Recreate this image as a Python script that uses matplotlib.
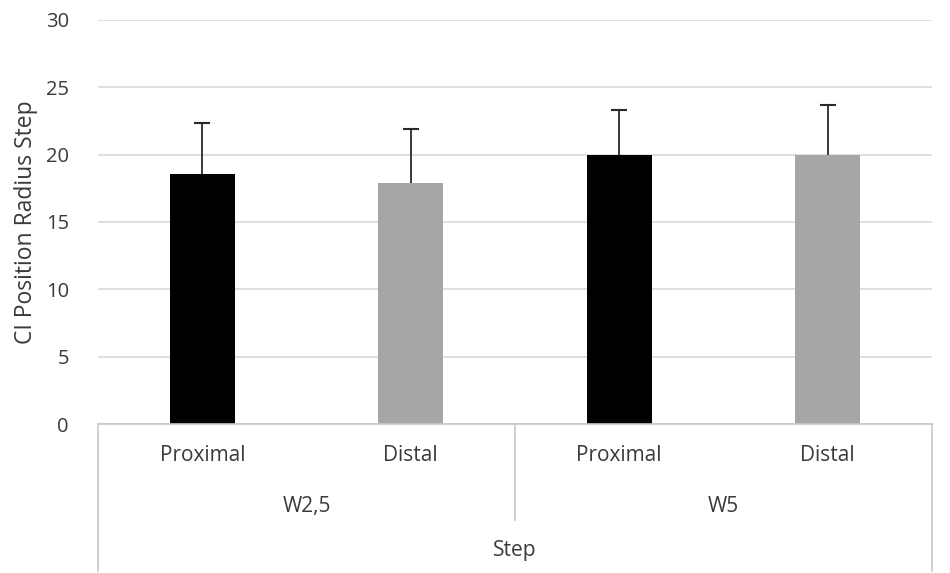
import matplotlib.pyplot as plt
import matplotlib.transforms as mtransforms

# Datos
grupos = ["W2,5", "W5"]
posiciones = ["Proximal", "Distal", "Proximal", "Distal"]
medias = [18.6, 17.9, 19.95, 19.95]
errores = [3.75, 4.0, 3.35, 3.75]
colores = ["#000000", "#a6a6a6", "#000000", "#a6a6a6"]

plt.rcParams['font.family'] = ['Open Sans', 'DejaVu Sans']
gris_texto = "#3a3a3a"

fig = plt.figure(figsize=(9.5, 5.73), dpi=100)
ax = fig.add_axes([98 / 950, 149 / 573, 834 / 950, 404 / 573])

x = list(range(len(medias)))
ax.bar(x, medias, width=0.31, color=colores, zorder=2)
# solo la parte superior del error, con su remate
ax.errorbar(x, medias, yerr=[[0] * len(errores), errores], fmt="none",
            ecolor="#2a2a2a", elinewidth=1.3, capsize=0, zorder=3)
tops = [m + e for m, e in zip(medias, errores)]
ax.plot(x, tops, linestyle="none", marker="_", markersize=11,
        markeredgewidth=1.5, color="#2a2a2a", zorder=3)

ax.set_xlim(-0.5, len(medias) - 0.5)
ax.set_ylim(0, 30)
ax.set_yticks(range(0, 31, 5))
ax.yaxis.grid(True, color="#d9d9d9", linewidth=1.2, zorder=0)
ax.set_axisbelow(True)
ax.tick_params(axis="y", length=0, labelsize=14.5, labelcolor=gris_texto, pad=21)
ax.tick_params(axis="x", length=0, labelbottom=False)
for lado in ["top", "right", "left"]:
    ax.spines[lado].set_visible(False)
ax.spines["bottom"].set_color("#c8c8c8")
ax.spines["bottom"].set_linewidth(1.2)

ax.set_ylabel("CI Position Radius Step", fontsize=16.5, color=gris_texto)
ax.yaxis.set_label_coords(-0.072, 0.5)

# Eje de categorias de varios niveles
trans = mtransforms.blended_transform_factory(ax.transData, ax.transAxes)
for xb, yb in [(-0.5, -0.364), (1.5, -0.238), (3.5, -0.364)]:
    ax.plot([xb, xb], [0, yb], transform=trans, color="#c8c8c8",
            linewidth=1.2, clip_on=False)

for xi, etiqueta in zip(x, posiciones):
    ax.text(xi, -0.079, etiqueta, transform=trans, ha="center", va="center",
            fontsize=15, color=gris_texto)
for gi, grupo in enumerate(grupos):
    ax.text(gi * 2 + 0.5, -0.205, grupo, transform=trans, ha="center",
            va="center", fontsize=15, color=gris_texto)
ax.text(1.5, -0.314, "Step", transform=trans, ha="center", va="center",
        fontsize=15, color=gris_texto)

fig.savefig("out.png", dpi=100)
